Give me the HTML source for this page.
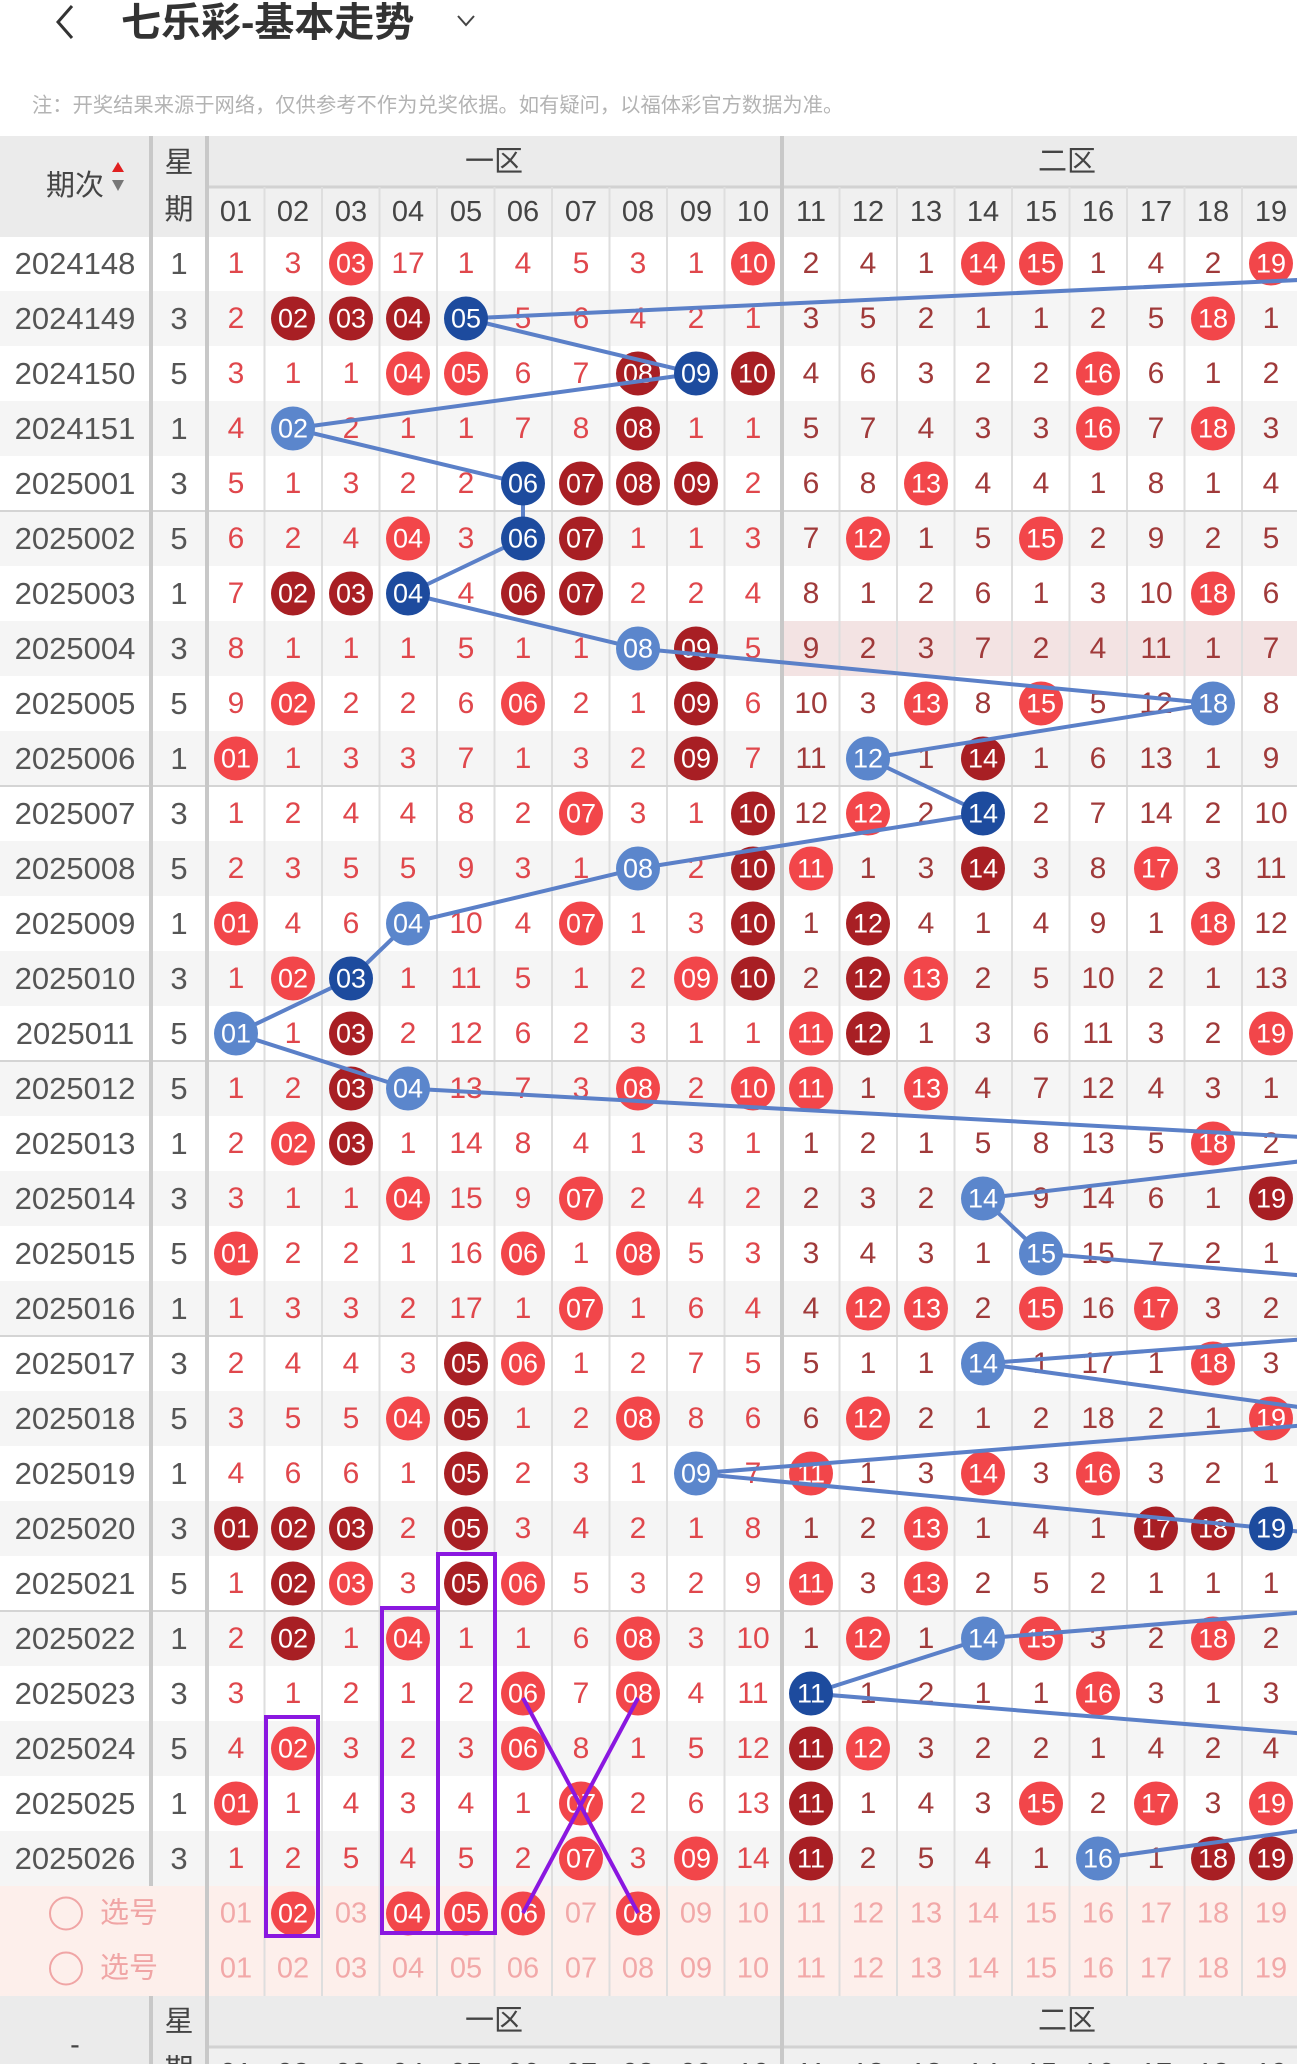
<!DOCTYPE html>
<html><head><meta charset="utf-8">
<style>
html,body{margin:0;padding:0;background:#fff;width:1297px;height:2064px;overflow:hidden}
svg{display:block}
text{font-family:"Liberation Sans","Noto Sans CJK SC",sans-serif;text-anchor:middle;dominant-baseline:central}
.a text{fill:#e0474c;font-size:30px}
.m text{fill:#a03a3a;font-size:30px}
.w text{fill:#fff;font-size:27px}
.k{fill:#555;font-size:31px}
.h{fill:#444;font-size:29px}
.L{fill:#f2464a}.D{fill:#a81f24}.B{fill:#1d4b9e}.b{fill:#5b86cc}
.p text{fill:#f2a8a8;font-size:29px}
</style></head><body>
<svg width="1297" height="2064" viewBox="0 0 1297 2064" xmlns="http://www.w3.org/2000/svg">
<!-- top -->
<polyline points="72,6 58,22 72,38" fill="none" stroke="#333" stroke-width="3"/>
<text x="121" y="23" style="text-anchor:start;font-size:40px;font-weight:bold;fill:#333">七乐彩-基本走势</text>
<polyline points="458,16 466,25 474,16" fill="none" stroke="#444" stroke-width="2"/>
<text x="32" y="106" style="text-anchor:start;font-size:20.3px;fill:#b3b3b3">注：开奖结果来源于网络，仅供参考不作为兑奖依据。如有疑问，以福体彩官方数据为准。</text>

<!-- header -->
<rect x="0" y="136" width="1297" height="101" fill="#ebebeb"/>
<rect x="207" y="187" width="1090" height="50" fill="#f0f0f0"/>
<line x1="207" y1="187" x2="1297" y2="187" stroke="#d2d2d2" stroke-width="3"/>
<text x="75" y="186" class="h">期次</text>
<polygon points="112,172 124,172 118,162" fill="#e02020"/>
<polygon points="112,180 124,180 118,191" fill="#777"/>
<text x="179" y="163" class="h">星</text>
<text x="179" y="210" class="h">期</text>
<text x="494" y="162" class="h">一区</text>
<text x="1067" y="162" class="h">二区</text>
<g>
<text x="236" y="212" class="h">01</text><text x="293" y="212" class="h">02</text><text x="351" y="212" class="h">03</text><text x="408" y="212" class="h">04</text><text x="466" y="212" class="h">05</text><text x="523" y="212" class="h">06</text><text x="581" y="212" class="h">07</text><text x="638" y="212" class="h">08</text><text x="696" y="212" class="h">09</text><text x="753" y="212" class="h">10</text><text x="811" y="212" class="h">11</text><text x="868" y="212" class="h">12</text><text x="926" y="212" class="h">13</text><text x="983" y="212" class="h">14</text><text x="1041" y="212" class="h">15</text><text x="1098" y="212" class="h">16</text><text x="1156" y="212" class="h">17</text><text x="1213" y="212" class="h">18</text><text x="1271" y="212" class="h">19</text>
</g>

<!-- row stripes -->
<g fill="#f5f5f5">
<rect x="0" y="291" width="1297" height="55"/><rect x="0" y="401" width="1297" height="55"/><rect x="0" y="511" width="1297" height="55"/><rect x="0" y="621" width="1297" height="55"/><rect x="0" y="731" width="1297" height="55"/><rect x="0" y="841" width="1297" height="55"/><rect x="0" y="951" width="1297" height="55"/><rect x="0" y="1061" width="1297" height="55"/><rect x="0" y="1171" width="1297" height="55"/><rect x="0" y="1281" width="1297" height="55"/><rect x="0" y="1391" width="1297" height="55"/><rect x="0" y="1501" width="1297" height="55"/><rect x="0" y="1611" width="1297" height="55"/><rect x="0" y="1721" width="1297" height="55"/><rect x="0" y="1831" width="1297" height="55"/>
</g>
<rect x="782" y="621" width="515" height="55" fill="#f3e3e3"/>
<rect x="0" y="1886" width="1297" height="110" fill="#fdefeb"/>

<!-- vertical grid -->
<g stroke="#dedede" stroke-width="2">
<line x1="264.5" y1="187" x2="264.5" y2="1996"/><line x1="322" y1="187" x2="322" y2="1996"/><line x1="379.5" y1="187" x2="379.5" y2="1996"/><line x1="437" y1="187" x2="437" y2="1996"/><line x1="494.5" y1="187" x2="494.5" y2="1996"/><line x1="552" y1="187" x2="552" y2="1996"/><line x1="609.5" y1="187" x2="609.5" y2="1996"/><line x1="667" y1="187" x2="667" y2="1996"/><line x1="724.5" y1="187" x2="724.5" y2="1996"/><line x1="839.5" y1="187" x2="839.5" y2="1996"/><line x1="897" y1="187" x2="897" y2="1996"/><line x1="954.5" y1="187" x2="954.5" y2="1996"/><line x1="1012" y1="187" x2="1012" y2="1996"/><line x1="1069.5" y1="187" x2="1069.5" y2="1996"/><line x1="1127" y1="187" x2="1127" y2="1996"/><line x1="1184.5" y1="187" x2="1184.5" y2="1996"/><line x1="1242" y1="187" x2="1242" y2="1996"/>
</g>
<g stroke="#d4d4d4" stroke-width="2">
<line x1="0" y1="511" x2="1297" y2="511"/><line x1="0" y1="786" x2="1297" y2="786"/><line x1="0" y1="1061" x2="1297" y2="1061"/><line x1="0" y1="1336" x2="1297" y2="1336"/><line x1="0" y1="1611" x2="1297" y2="1611"/>
</g>
<g stroke="#c8c8c8" stroke-width="4">
<line x1="151" y1="136" x2="151" y2="1886"/>
<line x1="207" y1="136" x2="207" y2="2064"/>
<line x1="782" y1="136" x2="782" y2="2064"/>
<line x1="151" y1="1996" x2="151" y2="2064"/>
</g>

<!-- periods -->
<g>
<text x="75" y="263.5" class="k">2024148</text><text x="75" y="318.5" class="k">2024149</text><text x="75" y="373.5" class="k">2024150</text><text x="75" y="428.5" class="k">2024151</text><text x="75" y="483.5" class="k">2025001</text><text x="75" y="538.5" class="k">2025002</text><text x="75" y="593.5" class="k">2025003</text><text x="75" y="648.5" class="k">2025004</text><text x="75" y="703.5" class="k">2025005</text><text x="75" y="758.5" class="k">2025006</text><text x="75" y="813.5" class="k">2025007</text><text x="75" y="868.5" class="k">2025008</text><text x="75" y="923.5" class="k">2025009</text><text x="75" y="978.5" class="k">2025010</text><text x="75" y="1033.5" class="k">2025011</text><text x="75" y="1088.5" class="k">2025012</text><text x="75" y="1143.5" class="k">2025013</text><text x="75" y="1198.5" class="k">2025014</text><text x="75" y="1253.5" class="k">2025015</text><text x="75" y="1308.5" class="k">2025016</text><text x="75" y="1363.5" class="k">2025017</text><text x="75" y="1418.5" class="k">2025018</text><text x="75" y="1473.5" class="k">2025019</text><text x="75" y="1528.5" class="k">2025020</text><text x="75" y="1583.5" class="k">2025021</text><text x="75" y="1638.5" class="k">2025022</text><text x="75" y="1693.5" class="k">2025023</text><text x="75" y="1748.5" class="k">2025024</text><text x="75" y="1803.5" class="k">2025025</text><text x="75" y="1858.5" class="k">2025026</text>
<text x="179" y="263.5" class="k">1</text><text x="179" y="318.5" class="k">3</text><text x="179" y="373.5" class="k">5</text><text x="179" y="428.5" class="k">1</text><text x="179" y="483.5" class="k">3</text><text x="179" y="538.5" class="k">5</text><text x="179" y="593.5" class="k">1</text><text x="179" y="648.5" class="k">3</text><text x="179" y="703.5" class="k">5</text><text x="179" y="758.5" class="k">1</text><text x="179" y="813.5" class="k">3</text><text x="179" y="868.5" class="k">5</text><text x="179" y="923.5" class="k">1</text><text x="179" y="978.5" class="k">3</text><text x="179" y="1033.5" class="k">5</text><text x="179" y="1088.5" class="k">5</text><text x="179" y="1143.5" class="k">1</text><text x="179" y="1198.5" class="k">3</text><text x="179" y="1253.5" class="k">5</text><text x="179" y="1308.5" class="k">1</text><text x="179" y="1363.5" class="k">3</text><text x="179" y="1418.5" class="k">5</text><text x="179" y="1473.5" class="k">1</text><text x="179" y="1528.5" class="k">3</text><text x="179" y="1583.5" class="k">5</text><text x="179" y="1638.5" class="k">1</text><text x="179" y="1693.5" class="k">3</text><text x="179" y="1748.5" class="k">5</text><text x="179" y="1803.5" class="k">1</text><text x="179" y="1858.5" class="k">3</text>
</g>

<g transform="translate(0,263.5)">
<g class="a"><text x="236">1</text><text x="293">3</text><text x="408">17</text><text x="466">1</text><text x="523">4</text><text x="581">5</text><text x="638">3</text><text x="696">1</text></g>
<g class="m"><text x="811">2</text><text x="868">4</text><text x="926">1</text><text x="1098">1</text><text x="1156">4</text><text x="1213">2</text></g>
<circle cx="351" r="22" class="L"/><circle cx="753" r="22" class="L"/><circle cx="983" r="22" class="L"/><circle cx="1041" r="22" class="L"/><circle cx="1271" r="22" class="L"/>
<g class="w"><text x="351">03</text><text x="753">10</text><text x="983">14</text><text x="1041">15</text><text x="1271">19</text></g>
</g>
<g transform="translate(0,318.5)">
<g class="a"><text x="236">2</text><text x="523">5</text><text x="581">6</text><text x="638">4</text><text x="696">2</text><text x="753">1</text></g>
<g class="m"><text x="811">3</text><text x="868">5</text><text x="926">2</text><text x="983">1</text><text x="1041">1</text><text x="1098">2</text><text x="1156">5</text><text x="1271">1</text></g>
<circle cx="293" r="22" class="D"/><circle cx="351" r="22" class="D"/><circle cx="408" r="22" class="D"/><circle cx="1213" r="22" class="L"/>
<g class="w"><text x="293">02</text><text x="351">03</text><text x="408">04</text><text x="1213">18</text></g>
</g>
<g transform="translate(0,373.5)">
<g class="a"><text x="236">3</text><text x="293">1</text><text x="351">1</text><text x="523">6</text><text x="581">7</text></g>
<g class="m"><text x="811">4</text><text x="868">6</text><text x="926">3</text><text x="983">2</text><text x="1041">2</text><text x="1156">6</text><text x="1213">1</text><text x="1271">2</text></g>
<circle cx="408" r="22" class="L"/><circle cx="466" r="22" class="L"/><circle cx="638" r="22" class="D"/><circle cx="753" r="22" class="D"/><circle cx="1098" r="22" class="L"/>
<g class="w"><text x="408">04</text><text x="466">05</text><text x="638">08</text><text x="753">10</text><text x="1098">16</text></g>
</g>
<g transform="translate(0,428.5)">
<g class="a"><text x="236">4</text><text x="351">2</text><text x="408">1</text><text x="466">1</text><text x="523">7</text><text x="581">8</text><text x="696">1</text><text x="753">1</text></g>
<g class="m"><text x="811">5</text><text x="868">7</text><text x="926">4</text><text x="983">3</text><text x="1041">3</text><text x="1156">7</text><text x="1271">3</text></g>
<circle cx="638" r="22" class="D"/><circle cx="1098" r="22" class="L"/><circle cx="1213" r="22" class="L"/>
<g class="w"><text x="638">08</text><text x="1098">16</text><text x="1213">18</text></g>
</g>
<g transform="translate(0,483.5)">
<g class="a"><text x="236">5</text><text x="293">1</text><text x="351">3</text><text x="408">2</text><text x="466">2</text><text x="753">2</text></g>
<g class="m"><text x="811">6</text><text x="868">8</text><text x="983">4</text><text x="1041">4</text><text x="1098">1</text><text x="1156">8</text><text x="1213">1</text><text x="1271">4</text></g>
<circle cx="581" r="22" class="D"/><circle cx="638" r="22" class="D"/><circle cx="696" r="22" class="D"/><circle cx="926" r="22" class="L"/>
<g class="w"><text x="581">07</text><text x="638">08</text><text x="696">09</text><text x="926">13</text></g>
</g>
<g transform="translate(0,538.5)">
<g class="a"><text x="236">6</text><text x="293">2</text><text x="351">4</text><text x="466">3</text><text x="638">1</text><text x="696">1</text><text x="753">3</text></g>
<g class="m"><text x="811">7</text><text x="926">1</text><text x="983">5</text><text x="1098">2</text><text x="1156">9</text><text x="1213">2</text><text x="1271">5</text></g>
<circle cx="408" r="22" class="L"/><circle cx="581" r="22" class="D"/><circle cx="868" r="22" class="L"/><circle cx="1041" r="22" class="L"/>
<g class="w"><text x="408">04</text><text x="581">07</text><text x="868">12</text><text x="1041">15</text></g>
</g>
<g transform="translate(0,593.5)">
<g class="a"><text x="236">7</text><text x="466">4</text><text x="638">2</text><text x="696">2</text><text x="753">4</text></g>
<g class="m"><text x="811">8</text><text x="868">1</text><text x="926">2</text><text x="983">6</text><text x="1041">1</text><text x="1098">3</text><text x="1156">10</text><text x="1271">6</text></g>
<circle cx="293" r="22" class="D"/><circle cx="351" r="22" class="D"/><circle cx="523" r="22" class="D"/><circle cx="581" r="22" class="D"/><circle cx="1213" r="22" class="L"/>
<g class="w"><text x="293">02</text><text x="351">03</text><text x="523">06</text><text x="581">07</text><text x="1213">18</text></g>
</g>
<g transform="translate(0,648.5)">
<g class="a"><text x="236">8</text><text x="293">1</text><text x="351">1</text><text x="408">1</text><text x="466">5</text><text x="523">1</text><text x="581">1</text><text x="753">5</text></g>
<g class="m"><text x="811">9</text><text x="868">2</text><text x="926">3</text><text x="983">7</text><text x="1041">2</text><text x="1098">4</text><text x="1156">11</text><text x="1213">1</text><text x="1271">7</text></g>
<circle cx="696" r="22" class="D"/>
<g class="w"><text x="696">09</text></g>
</g>
<g transform="translate(0,703.5)">
<g class="a"><text x="236">9</text><text x="351">2</text><text x="408">2</text><text x="466">6</text><text x="581">2</text><text x="638">1</text><text x="753">6</text></g>
<g class="m"><text x="811">10</text><text x="868">3</text><text x="983">8</text><text x="1098">5</text><text x="1156">12</text><text x="1271">8</text></g>
<circle cx="293" r="22" class="L"/><circle cx="523" r="22" class="L"/><circle cx="696" r="22" class="D"/><circle cx="926" r="22" class="L"/><circle cx="1041" r="22" class="L"/>
<g class="w"><text x="293">02</text><text x="523">06</text><text x="696">09</text><text x="926">13</text><text x="1041">15</text></g>
</g>
<g transform="translate(0,758.5)">
<g class="a"><text x="293">1</text><text x="351">3</text><text x="408">3</text><text x="466">7</text><text x="523">1</text><text x="581">3</text><text x="638">2</text><text x="753">7</text></g>
<g class="m"><text x="811">11</text><text x="926">1</text><text x="1041">1</text><text x="1098">6</text><text x="1156">13</text><text x="1213">1</text><text x="1271">9</text></g>
<circle cx="236" r="22" class="L"/><circle cx="696" r="22" class="D"/><circle cx="983" r="22" class="D"/>
<g class="w"><text x="236">01</text><text x="696">09</text><text x="983">14</text></g>
</g>
<g transform="translate(0,813.5)">
<g class="a"><text x="236">1</text><text x="293">2</text><text x="351">4</text><text x="408">4</text><text x="466">8</text><text x="523">2</text><text x="638">3</text><text x="696">1</text></g>
<g class="m"><text x="811">12</text><text x="926">2</text><text x="1041">2</text><text x="1098">7</text><text x="1156">14</text><text x="1213">2</text><text x="1271">10</text></g>
<circle cx="581" r="22" class="L"/><circle cx="753" r="22" class="D"/><circle cx="868" r="22" class="L"/>
<g class="w"><text x="581">07</text><text x="753">10</text><text x="868">12</text></g>
</g>
<g transform="translate(0,868.5)">
<g class="a"><text x="236">2</text><text x="293">3</text><text x="351">5</text><text x="408">5</text><text x="466">9</text><text x="523">3</text><text x="581">1</text><text x="696">2</text></g>
<g class="m"><text x="868">1</text><text x="926">3</text><text x="1041">3</text><text x="1098">8</text><text x="1213">3</text><text x="1271">11</text></g>
<circle cx="753" r="22" class="D"/><circle cx="811" r="22" class="L"/><circle cx="983" r="22" class="D"/><circle cx="1156" r="22" class="L"/>
<g class="w"><text x="753">10</text><text x="811">11</text><text x="983">14</text><text x="1156">17</text></g>
</g>
<g transform="translate(0,923.5)">
<g class="a"><text x="293">4</text><text x="351">6</text><text x="466">10</text><text x="523">4</text><text x="638">1</text><text x="696">3</text></g>
<g class="m"><text x="811">1</text><text x="926">4</text><text x="983">1</text><text x="1041">4</text><text x="1098">9</text><text x="1156">1</text><text x="1271">12</text></g>
<circle cx="236" r="22" class="L"/><circle cx="581" r="22" class="L"/><circle cx="753" r="22" class="D"/><circle cx="868" r="22" class="D"/><circle cx="1213" r="22" class="L"/>
<g class="w"><text x="236">01</text><text x="581">07</text><text x="753">10</text><text x="868">12</text><text x="1213">18</text></g>
</g>
<g transform="translate(0,978.5)">
<g class="a"><text x="236">1</text><text x="408">1</text><text x="466">11</text><text x="523">5</text><text x="581">1</text><text x="638">2</text></g>
<g class="m"><text x="811">2</text><text x="983">2</text><text x="1041">5</text><text x="1098">10</text><text x="1156">2</text><text x="1213">1</text><text x="1271">13</text></g>
<circle cx="293" r="22" class="L"/><circle cx="696" r="22" class="L"/><circle cx="753" r="22" class="D"/><circle cx="868" r="22" class="D"/><circle cx="926" r="22" class="L"/>
<g class="w"><text x="293">02</text><text x="696">09</text><text x="753">10</text><text x="868">12</text><text x="926">13</text></g>
</g>
<g transform="translate(0,1033.5)">
<g class="a"><text x="293">1</text><text x="408">2</text><text x="466">12</text><text x="523">6</text><text x="581">2</text><text x="638">3</text><text x="696">1</text><text x="753">1</text></g>
<g class="m"><text x="926">1</text><text x="983">3</text><text x="1041">6</text><text x="1098">11</text><text x="1156">3</text><text x="1213">2</text></g>
<circle cx="351" r="22" class="D"/><circle cx="811" r="22" class="L"/><circle cx="868" r="22" class="D"/><circle cx="1271" r="22" class="L"/>
<g class="w"><text x="351">03</text><text x="811">11</text><text x="868">12</text><text x="1271">19</text></g>
</g>
<g transform="translate(0,1088.5)">
<g class="a"><text x="236">1</text><text x="293">2</text><text x="466">13</text><text x="523">7</text><text x="581">3</text><text x="696">2</text></g>
<g class="m"><text x="868">1</text><text x="983">4</text><text x="1041">7</text><text x="1098">12</text><text x="1156">4</text><text x="1213">3</text><text x="1271">1</text></g>
<circle cx="351" r="22" class="D"/><circle cx="638" r="22" class="L"/><circle cx="753" r="22" class="L"/><circle cx="811" r="22" class="L"/><circle cx="926" r="22" class="L"/>
<g class="w"><text x="351">03</text><text x="638">08</text><text x="753">10</text><text x="811">11</text><text x="926">13</text></g>
</g>
<g transform="translate(0,1143.5)">
<g class="a"><text x="236">2</text><text x="408">1</text><text x="466">14</text><text x="523">8</text><text x="581">4</text><text x="638">1</text><text x="696">3</text><text x="753">1</text></g>
<g class="m"><text x="811">1</text><text x="868">2</text><text x="926">1</text><text x="983">5</text><text x="1041">8</text><text x="1098">13</text><text x="1156">5</text><text x="1271">2</text></g>
<circle cx="293" r="22" class="L"/><circle cx="351" r="22" class="D"/><circle cx="1213" r="22" class="L"/>
<g class="w"><text x="293">02</text><text x="351">03</text><text x="1213">18</text></g>
</g>
<g transform="translate(0,1198.5)">
<g class="a"><text x="236">3</text><text x="293">1</text><text x="351">1</text><text x="466">15</text><text x="523">9</text><text x="638">2</text><text x="696">4</text><text x="753">2</text></g>
<g class="m"><text x="811">2</text><text x="868">3</text><text x="926">2</text><text x="1041">9</text><text x="1098">14</text><text x="1156">6</text><text x="1213">1</text></g>
<circle cx="408" r="22" class="L"/><circle cx="581" r="22" class="L"/><circle cx="1271" r="22" class="D"/>
<g class="w"><text x="408">04</text><text x="581">07</text><text x="1271">19</text></g>
</g>
<g transform="translate(0,1253.5)">
<g class="a"><text x="293">2</text><text x="351">2</text><text x="408">1</text><text x="466">16</text><text x="581">1</text><text x="696">5</text><text x="753">3</text></g>
<g class="m"><text x="811">3</text><text x="868">4</text><text x="926">3</text><text x="983">1</text><text x="1098">15</text><text x="1156">7</text><text x="1213">2</text><text x="1271">1</text></g>
<circle cx="236" r="22" class="L"/><circle cx="523" r="22" class="L"/><circle cx="638" r="22" class="L"/>
<g class="w"><text x="236">01</text><text x="523">06</text><text x="638">08</text></g>
</g>
<g transform="translate(0,1308.5)">
<g class="a"><text x="236">1</text><text x="293">3</text><text x="351">3</text><text x="408">2</text><text x="466">17</text><text x="523">1</text><text x="638">1</text><text x="696">6</text><text x="753">4</text></g>
<g class="m"><text x="811">4</text><text x="983">2</text><text x="1098">16</text><text x="1213">3</text><text x="1271">2</text></g>
<circle cx="581" r="22" class="L"/><circle cx="868" r="22" class="L"/><circle cx="926" r="22" class="L"/><circle cx="1041" r="22" class="L"/><circle cx="1156" r="22" class="L"/>
<g class="w"><text x="581">07</text><text x="868">12</text><text x="926">13</text><text x="1041">15</text><text x="1156">17</text></g>
</g>
<g transform="translate(0,1363.5)">
<g class="a"><text x="236">2</text><text x="293">4</text><text x="351">4</text><text x="408">3</text><text x="581">1</text><text x="638">2</text><text x="696">7</text><text x="753">5</text></g>
<g class="m"><text x="811">5</text><text x="868">1</text><text x="926">1</text><text x="1041">1</text><text x="1098">17</text><text x="1156">1</text><text x="1271">3</text></g>
<circle cx="466" r="22" class="D"/><circle cx="523" r="22" class="L"/><circle cx="1213" r="22" class="L"/>
<g class="w"><text x="466">05</text><text x="523">06</text><text x="1213">18</text></g>
</g>
<g transform="translate(0,1418.5)">
<g class="a"><text x="236">3</text><text x="293">5</text><text x="351">5</text><text x="523">1</text><text x="581">2</text><text x="696">8</text><text x="753">6</text></g>
<g class="m"><text x="811">6</text><text x="926">2</text><text x="983">1</text><text x="1041">2</text><text x="1098">18</text><text x="1156">2</text><text x="1213">1</text></g>
<circle cx="408" r="22" class="L"/><circle cx="466" r="22" class="D"/><circle cx="638" r="22" class="L"/><circle cx="868" r="22" class="L"/><circle cx="1271" r="22" class="L"/>
<g class="w"><text x="408">04</text><text x="466">05</text><text x="638">08</text><text x="868">12</text><text x="1271">19</text></g>
</g>
<g transform="translate(0,1473.5)">
<g class="a"><text x="236">4</text><text x="293">6</text><text x="351">6</text><text x="408">1</text><text x="523">2</text><text x="581">3</text><text x="638">1</text><text x="753">7</text></g>
<g class="m"><text x="868">1</text><text x="926">3</text><text x="1041">3</text><text x="1156">3</text><text x="1213">2</text><text x="1271">1</text></g>
<circle cx="466" r="22" class="D"/><circle cx="811" r="22" class="L"/><circle cx="983" r="22" class="L"/><circle cx="1098" r="22" class="L"/>
<g class="w"><text x="466">05</text><text x="811">11</text><text x="983">14</text><text x="1098">16</text></g>
</g>
<g transform="translate(0,1528.5)">
<g class="a"><text x="408">2</text><text x="523">3</text><text x="581">4</text><text x="638">2</text><text x="696">1</text><text x="753">8</text></g>
<g class="m"><text x="811">1</text><text x="868">2</text><text x="983">1</text><text x="1041">4</text><text x="1098">1</text></g>
<circle cx="236" r="22" class="D"/><circle cx="293" r="22" class="D"/><circle cx="351" r="22" class="D"/><circle cx="466" r="22" class="D"/><circle cx="926" r="22" class="L"/><circle cx="1156" r="22" class="D"/><circle cx="1213" r="22" class="D"/>
<g class="w"><text x="236">01</text><text x="293">02</text><text x="351">03</text><text x="466">05</text><text x="926">13</text><text x="1156">17</text><text x="1213">18</text></g>
</g>
<g transform="translate(0,1583.5)">
<g class="a"><text x="236">1</text><text x="408">3</text><text x="581">5</text><text x="638">3</text><text x="696">2</text><text x="753">9</text></g>
<g class="m"><text x="868">3</text><text x="983">2</text><text x="1041">5</text><text x="1098">2</text><text x="1156">1</text><text x="1213">1</text><text x="1271">1</text></g>
<circle cx="293" r="22" class="D"/><circle cx="351" r="22" class="L"/><circle cx="466" r="22" class="D"/><circle cx="523" r="22" class="L"/><circle cx="811" r="22" class="L"/><circle cx="926" r="22" class="L"/>
<g class="w"><text x="293">02</text><text x="351">03</text><text x="466">05</text><text x="523">06</text><text x="811">11</text><text x="926">13</text></g>
</g>
<g transform="translate(0,1638.5)">
<g class="a"><text x="236">2</text><text x="351">1</text><text x="466">1</text><text x="523">1</text><text x="581">6</text><text x="696">3</text><text x="753">10</text></g>
<g class="m"><text x="811">1</text><text x="926">1</text><text x="1098">3</text><text x="1156">2</text><text x="1271">2</text></g>
<circle cx="293" r="22" class="D"/><circle cx="408" r="22" class="L"/><circle cx="638" r="22" class="L"/><circle cx="868" r="22" class="L"/><circle cx="1041" r="22" class="L"/><circle cx="1213" r="22" class="L"/>
<g class="w"><text x="293">02</text><text x="408">04</text><text x="638">08</text><text x="868">12</text><text x="1041">15</text><text x="1213">18</text></g>
</g>
<g transform="translate(0,1693.5)">
<g class="a"><text x="236">3</text><text x="293">1</text><text x="351">2</text><text x="408">1</text><text x="466">2</text><text x="581">7</text><text x="696">4</text><text x="753">11</text></g>
<g class="m"><text x="868">1</text><text x="926">2</text><text x="983">1</text><text x="1041">1</text><text x="1156">3</text><text x="1213">1</text><text x="1271">3</text></g>
<circle cx="523" r="22" class="L"/><circle cx="638" r="22" class="L"/><circle cx="1098" r="22" class="L"/>
<g class="w"><text x="523">06</text><text x="638">08</text><text x="1098">16</text></g>
</g>
<g transform="translate(0,1748.5)">
<g class="a"><text x="236">4</text><text x="351">3</text><text x="408">2</text><text x="466">3</text><text x="581">8</text><text x="638">1</text><text x="696">5</text><text x="753">12</text></g>
<g class="m"><text x="926">3</text><text x="983">2</text><text x="1041">2</text><text x="1098">1</text><text x="1156">4</text><text x="1213">2</text><text x="1271">4</text></g>
<circle cx="293" r="22" class="L"/><circle cx="523" r="22" class="L"/><circle cx="811" r="22" class="D"/><circle cx="868" r="22" class="L"/>
<g class="w"><text x="293">02</text><text x="523">06</text><text x="811">11</text><text x="868">12</text></g>
</g>
<g transform="translate(0,1803.5)">
<g class="a"><text x="293">1</text><text x="351">4</text><text x="408">3</text><text x="466">4</text><text x="523">1</text><text x="638">2</text><text x="696">6</text><text x="753">13</text></g>
<g class="m"><text x="868">1</text><text x="926">4</text><text x="983">3</text><text x="1098">2</text><text x="1213">3</text></g>
<circle cx="236" r="22" class="L"/><circle cx="581" r="22" class="L"/><circle cx="811" r="22" class="D"/><circle cx="1041" r="22" class="L"/><circle cx="1156" r="22" class="L"/><circle cx="1271" r="22" class="L"/>
<g class="w"><text x="236">01</text><text x="581">07</text><text x="811">11</text><text x="1041">15</text><text x="1156">17</text><text x="1271">19</text></g>
</g>
<g transform="translate(0,1858.5)">
<g class="a"><text x="236">1</text><text x="293">2</text><text x="351">5</text><text x="408">4</text><text x="466">5</text><text x="523">2</text><text x="638">3</text><text x="753">14</text></g>
<g class="m"><text x="868">2</text><text x="926">5</text><text x="983">4</text><text x="1041">1</text><text x="1156">1</text></g>
<circle cx="581" r="22" class="L"/><circle cx="696" r="22" class="L"/><circle cx="811" r="22" class="D"/><circle cx="1213" r="22" class="D"/><circle cx="1271" r="22" class="D"/>
<g class="w"><text x="581">07</text><text x="696">09</text><text x="811">11</text><text x="1213">18</text><text x="1271">19</text></g>
</g>

<!-- pick rows -->
<circle cx="66" cy="1913.5" r="16" fill="none" stroke="#f0a5a5" stroke-width="2"/>
<text x="129" y="1913.5" style="font-size:29px;fill:#f0a5a5">选号</text>
<circle cx="66" cy="1968.5" r="16" fill="none" stroke="#f0a5a5" stroke-width="2"/>
<text x="129" y="1968.5" style="font-size:29px;fill:#f0a5a5">选号</text>
<g transform="translate(0,1913.5)">
<g class="p"><text x="236">01</text><text x="351">03</text><text x="581">07</text><text x="696">09</text><text x="753">10</text><text x="811">11</text><text x="868">12</text><text x="926">13</text><text x="983">14</text><text x="1041">15</text><text x="1098">16</text><text x="1156">17</text><text x="1213">18</text><text x="1271">19</text></g>
<circle cx="293" r="22" class="L"/><circle cx="408" r="22" class="L"/><circle cx="466" r="22" class="L"/><circle cx="523" r="22" class="L"/><circle cx="638" r="22" class="L"/>
<g class="w"><text x="293">02</text><text x="408">04</text><text x="466">05</text><text x="523">06</text><text x="638">08</text></g>
</g>
<g transform="translate(0,1968.5)" class="p">
<text x="236">01</text><text x="293">02</text><text x="351">03</text><text x="408">04</text><text x="466">05</text><text x="523">06</text><text x="581">07</text><text x="638">08</text><text x="696">09</text><text x="753">10</text><text x="811">11</text><text x="868">12</text><text x="926">13</text><text x="983">14</text><text x="1041">15</text><text x="1098">16</text><text x="1156">17</text><text x="1213">18</text><text x="1271">19</text>
</g>

<!-- blue lines -->
<g fill="none" stroke="#5b80c8" stroke-width="4" stroke-linejoin="round">
<polyline points="1320,279 466,318.5 696,373.5 293,428.5 523,483.5 523,538.5 408,593.5 638,648.5 1213,703.5 868,758.5 983,813.5 638,868.5 408,923.5 351,978.5 236,1033.5 408,1088.5 1320,1138"/>
<polyline points="1320,1159 983,1198.5 1041,1253.5 1320,1277"/>
<polyline points="1320,1338 983,1363.5 1320,1410"/>
<polyline points="1320,1424 696,1473.5 1271,1528.5 1320,1534"/>
<polyline points="1320,1611 983,1638.5 811,1693.5 1320,1735"/>
<polyline points="1320,1828 1098,1858.5"/>
</g>
<g>
<circle cx="466" cy="318.5" r="22" class="B"/><circle cx="696" cy="373.5" r="22" class="B"/><circle cx="293" cy="428.5" r="22" class="b"/><circle cx="523" cy="483.5" r="22" class="B"/><circle cx="523" cy="538.5" r="22" class="B"/><circle cx="408" cy="593.5" r="22" class="B"/><circle cx="638" cy="648.5" r="22" class="b"/><circle cx="1213" cy="703.5" r="22" class="b"/><circle cx="868" cy="758.5" r="22" class="b"/><circle cx="983" cy="813.5" r="22" class="B"/><circle cx="638" cy="868.5" r="22" class="b"/><circle cx="408" cy="923.5" r="22" class="b"/><circle cx="351" cy="978.5" r="22" class="B"/><circle cx="236" cy="1033.5" r="22" class="b"/><circle cx="408" cy="1088.5" r="22" class="b"/><circle cx="983" cy="1198.5" r="22" class="b"/><circle cx="1041" cy="1253.5" r="22" class="b"/><circle cx="983" cy="1363.5" r="22" class="b"/><circle cx="696" cy="1473.5" r="22" class="b"/><circle cx="1271" cy="1528.5" r="22" class="B"/><circle cx="983" cy="1638.5" r="22" class="b"/><circle cx="811" cy="1693.5" r="22" class="B"/><circle cx="1098" cy="1858.5" r="22" class="b"/>
</g>
<g class="w">
<text x="466" y="318.5">05</text><text x="696" y="373.5">09</text><text x="293" y="428.5">02</text><text x="523" y="483.5">06</text><text x="523" y="538.5">06</text><text x="408" y="593.5">04</text><text x="638" y="648.5">08</text><text x="1213" y="703.5">18</text><text x="868" y="758.5">12</text><text x="983" y="813.5">14</text><text x="638" y="868.5">08</text><text x="408" y="923.5">04</text><text x="351" y="978.5">03</text><text x="236" y="1033.5">01</text><text x="408" y="1088.5">04</text><text x="983" y="1198.5">14</text><text x="1041" y="1253.5">15</text><text x="983" y="1363.5">14</text><text x="696" y="1473.5">09</text><text x="1271" y="1528.5">19</text><text x="983" y="1638.5">14</text><text x="811" y="1693.5">11</text><text x="1098" y="1858.5">16</text>
</g>

<!-- purple annotations -->
<g fill="none" stroke="#8a17e0" stroke-width="4">
<rect x="266" y="1717" width="52" height="219"/>
<rect x="382" y="1608" width="56" height="325"/>
<rect x="438" y="1554" width="57" height="379"/>
<line x1="523" y1="1698" x2="638" y2="1913"/>
<line x1="638" y1="1698" x2="523" y2="1913"/>
</g>

<!-- bottom header -->
<rect x="0" y="1996" width="1297" height="68" fill="#ebebeb"/>
<rect x="207" y="2047" width="1090" height="17" fill="#f0f0f0"/>
<line x1="207" y1="2047" x2="1297" y2="2047" stroke="#d2d2d2" stroke-width="3"/>
<g stroke="#c8c8c8" stroke-width="4"><line x1="151" y1="1996" x2="151" y2="2064"/><line x1="207" y1="1996" x2="207" y2="2064"/><line x1="782" y1="1996" x2="782" y2="2064"/></g>
<text x="75" y="2045" class="h">-</text>
<text x="179" y="2022" class="h">星</text>
<text x="179" y="2070" class="h">期</text>
<text x="494" y="2021" class="h">一区</text>
<text x="1067" y="2021" class="h">二区</text>
<g>
<text x="236" y="2074" class="h">01</text><text x="293" y="2074" class="h">02</text><text x="351" y="2074" class="h">03</text><text x="408" y="2074" class="h">04</text><text x="466" y="2074" class="h">05</text><text x="523" y="2074" class="h">06</text><text x="581" y="2074" class="h">07</text><text x="638" y="2074" class="h">08</text><text x="696" y="2074" class="h">09</text><text x="753" y="2074" class="h">10</text><text x="811" y="2074" class="h">11</text><text x="868" y="2074" class="h">12</text><text x="926" y="2074" class="h">13</text><text x="983" y="2074" class="h">14</text><text x="1041" y="2074" class="h">15</text><text x="1098" y="2074" class="h">16</text><text x="1156" y="2074" class="h">17</text><text x="1213" y="2074" class="h">18</text><text x="1271" y="2074" class="h">19</text>
</g>
</svg>
</body></html>
